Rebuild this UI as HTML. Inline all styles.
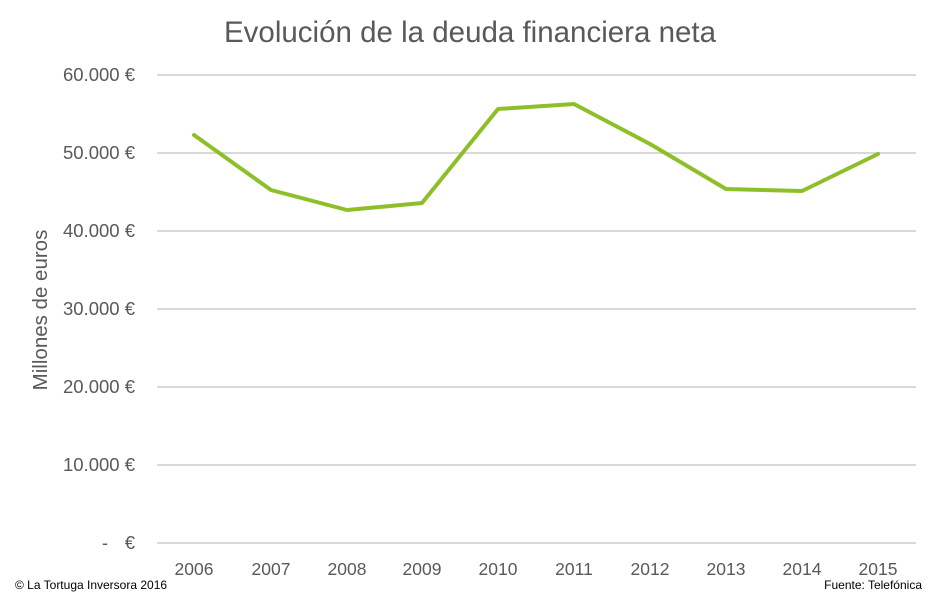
<!DOCTYPE html>
<html><head><meta charset="utf-8"><style>
html,body{margin:0;padding:0;background:#fff;}
</style></head><body>
<svg width="940" height="592" xmlns="http://www.w3.org/2000/svg" font-family="Liberation Sans, DejaVu Sans, sans-serif">
<rect width="940" height="592" fill="#fff"/>
<text x="470" y="42" text-anchor="middle" font-size="29.5" fill="#595959">Evolución de la deuda financiera neta</text>
<g stroke="#d9d9d9" stroke-width="2">
<line x1="157" x2="916" y1="75" y2="75"/>
<line x1="157" x2="916" y1="153" y2="153"/>
<line x1="157" x2="916" y1="231" y2="231"/>
<line x1="157" x2="916" y1="309" y2="309"/>
<line x1="157" x2="916" y1="387" y2="387"/>
<line x1="157" x2="916" y1="465" y2="465"/>
<line x1="157" x2="916" y1="543" y2="543"/>
</g>
<g font-size="18.5" fill="#595959" text-anchor="end">
<text x="135" y="81">60.000 €</text>
<text x="135" y="159">50.000 €</text>
<text x="135" y="237">40.000 €</text>
<text x="135" y="315">30.000 €</text>
<text x="135" y="393">20.000 €</text>
<text x="135" y="471">10.000 €</text>
<text x="135" y="549">€</text>
<text x="108" y="549">-</text>
</g>
<g font-size="17.5" fill="#595959" text-anchor="middle">
<text x="194" y="575">2006</text><text x="271" y="575">2007</text><text x="347" y="575">2008</text>
<text x="422" y="575">2009</text><text x="498" y="575">2010</text><text x="574" y="575">2011</text>
<text x="650" y="575">2012</text><text x="726" y="575">2013</text><text x="802" y="575">2014</text>
<text x="878" y="575">2015</text>
</g>
<text transform="translate(47,310) rotate(-90)" text-anchor="middle" font-size="20.5" fill="#595959">Millones de euros</text>
<polyline fill="none" stroke="#8dc028" stroke-width="4" stroke-linejoin="round" stroke-linecap="round"
points="194,135 271,190 347,210 422,203 498,109 574,104 650,144 726,189 802,191 878,154"/>
<text x="15" y="589" font-size="12" fill="#000">© La Tortuga Inversora 2016</text>
<text x="922" y="589" font-size="12" fill="#000" text-anchor="end">Fuente: Telefónica</text>
</svg>
</body></html>
